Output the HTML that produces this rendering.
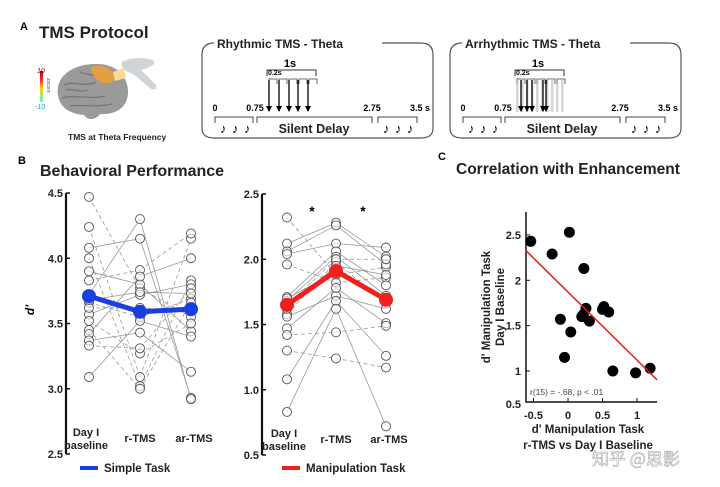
<!DOCTYPE html>
<html><head><meta charset="utf-8"><style>
body{margin:0;background:#fff;width:720px;height:487px;overflow:hidden}
svg{display:block;font-family:"Liberation Sans",Arial,sans-serif}
.b{font-weight:bold}
</style></head><body>
<svg id="fig" width="720" height="487" viewBox="0 0 720 487">
<defs>
<linearGradient id="cb" x1="0" y1="0" x2="0" y2="1"><stop offset="0" stop-color="#a00"/><stop offset="0.3" stop-color="#e33"/><stop offset="0.55" stop-color="#fc0"/><stop offset="0.8" stop-color="#9e6"/><stop offset="1" stop-color="#6ee"/></linearGradient>
<marker id="ar" markerWidth="6" markerHeight="6" refX="5" refY="3" orient="auto" markerUnits="userSpaceOnUse"><path d="M0,0 L6,3 L0,6 Z" fill="#000"/></marker>
</defs>
<g>
<text x="20" y="30" font-size="11" class="b">A</text>
<text x="39" y="38" font-size="17" class="b" fill="#222">TMS Protocol</text>
<g>
<path d="M58,95 C55,75 75,64 95,64 C115,63 128,75 128,92 C128,108 115,115 100,114 C96,120 88,121 84,115 C70,114 60,108 58,95 Z" fill="#9a9a9a"/>
<path d="M64,85 C75,80 85,88 96,82 M62,98 C75,94 90,100 105,96 M80,72 C88,76 100,74 110,80 M70,106 C82,104 95,108 112,104 M66,90 C74,88 80,93 88,90" stroke="#777" fill="none" stroke-width="1.3"/>
<path d="M91,67 C100,63 110,68 114,74 C117,81 112,84 104,83 C97,82 92,76 91,67 Z" fill="#f0a030" opacity="0.85"/>
<path d="M113,72 L124,68 L126,78 L115,81 Z" fill="#fbd89a"/>
<path d="M122,62 C130,57 148,57 154,61 C156,65 148,68 141,70 L156,85 C158,89 153,91 150,88 L133,74 C126,72 120,67 122,62 Z" fill="#cfd4d8"/>
<rect x="40" y="71" width="3" height="31" fill="url(#cb)"/>
<text x="37" y="73" font-size="7" fill="#a00" font-style="italic">10</text>
<text x="35" y="109" font-size="7" fill="#0aa" font-style="italic">-10</text>
<text x="47" y="78" font-size="5" fill="#555" transform="rotate(90 47 78)">zscore</text>
</g>
<text x="68" y="140" font-size="8.5" class="b" fill="#222">TMS at Theta Frequency</text>
<g id="rhythmic"></g>
<g id="arrhythmic"></g>
</g>
<text x="18" y="164" font-size="11" class="b">B</text>
<text x="40" y="176" font-size="16" class="b" fill="#222">Behavioral Performance</text>
<g id="simple"></g>
<g id="manip"></g>
<text x="438" y="160" font-size="11" class="b">C</text>
<text x="456" y="174" font-size="15.5" class="b" fill="#222">Correlation with Enhancement</text>
<g id="scatter"></g>
<text x="592" y="465" font-size="17" fill="#fff" stroke="#aaa" stroke-width="0.6" font-family="'Noto Sans CJK SC',sans-serif">知乎 @思影</text>
</svg>
<script>
const simpleCategories = ["Day I baseline", "r-TMS", "ar-TMS"];
const simpleBaseline = [4.47,4.24,4.08,4.00,3.90,3.83,3.72,3.66,3.57,3.52,3.45,3.42,3.37,3.33,3.09,3.62,3.68];
const simpleRTMS     = [3.77,3.09,4.15,3.02,3.80,3.91,4.30,3.55,3.72,3.27,3.00,3.86,3.43,3.31,3.52,3.62,3.74];
const simpleArTMS    = [3.55,4.15,2.93,3.83,3.44,4.19,2.92,3.69,3.80,3.50,3.66,4.00,3.13,3.77,3.40,3.60,3.73];
const simpleDashed   = [1,1,0,1,0,1,0,1,0,1,1,0,0,1,0,1,0];
const simpleMeans    = [3.71,3.59,3.61];
const simpleTicks    = [2.5,3.0,3.5,4.0,4.5];

const manipBaseline = [2.32,2.12,2.06,2.04,1.96,1.71,1.68,1.58,1.56,1.47,1.42,1.30,1.08,0.83,1.65,1.62,1.70];
const manipRTMS     = [1.88,2.28,2.26,2.12,1.82,2.06,2.02,1.98,1.72,1.78,1.44,1.24,1.68,1.62,2.00,1.95,1.90];
const manipArTMS    = [1.94,2.02,1.96,2.09,1.86,1.80,1.72,1.66,1.62,1.51,1.49,1.17,1.26,0.72,2.00,1.88,1.70];
const manipDashed   = [1,0,0,0,1,0,0,1,0,0,1,1,0,0,1,0,0];
const manipMeans    = [1.65,1.91,1.69];
const manipTicks    = [0.5,1.0,1.5,2.0,2.5];

const corrX = [-0.54,0.02,-0.23,0.23,0.26,0.20,0.31,0.52,0.50,0.59,-0.11,0.04,-0.05,0.65,0.98,1.19,0.22];
const corrY = [2.43,2.53,2.29,2.13,1.69,1.60,1.55,1.71,1.68,1.65,1.57,1.43,1.15,1.00,0.98,1.03,1.62];
const corrXTicks = [-0.5,0,0.5,1];
const corrYTicks = [1,1.5,2,2.5];
const fitIntercept = 1.87, fitSlope = -0.75;

const NS = "http://www.w3.org/2000/svg";
function mk(parent, tag, attrs, text){
  const e = document.createElementNS(NS, tag);
  for (const k in attrs) e.setAttribute(k, attrs[k]);
  if (text !== undefined) e.textContent = text;
  parent.appendChild(e);
  return e;
}

function protocol(g, ox, title, rhythmic){
  let t = mk(g,'path',{d:`M${ox+12},43 C${ox+4},43 ${ox},47 ${ox},55 L${ox},128 C${ox},135 ${ox+4},138 ${ox+12},138 L${ox+219},138 C${ox+227},138 ${ox+231},135 ${ox+231},128 L${ox+231},55 C${ox+231},47 ${ox+227},43 ${ox+219},43 L${ox+180},43`,fill:'none',stroke:'#555','stroke-width':1.2});
   
  t = mk(g,'text',{x:ox+15,y:48,'font-size':12,'font-weight':'bold',fill:'#222'},title);
   
  mk(g,'text',{x:ox+88,y:67,'font-size':11,'font-weight':'bold','text-anchor':'middle'},'1s');
  mk(g,'path',{d:`M${ox+65},76 L${ox+65},70 L${ox+114},70 L${ox+114},76`,fill:'none',stroke:'#333'});
  mk(g,'text',{x:ox+66,y:75,'font-size':7,'font-weight':'bold'},'0.2s');
  const ax = rhythmic ? [67,77,87,96,106] : [71,77,82,93,96];
  for (let i=0;i<5;i++){
    const bx = ox+67+i*10;
    mk(g,'path',{d:`M${bx},84 L${bx},79 L${bx+8},79 L${bx+8},84`,fill:'none',stroke:'#444','stroke-width':0.8});
  }
  if(!rhythmic){
    for(let i=0;i<10;i++) mk(g,'rect',{x:ox+66+i*5,y:80,width:2.5,height:32,fill:'#bbb',opacity:0.6});
  }
  ax.forEach(a=>{ mk(g,'line',{x1:ox+a,y1:80,x2:ox+a,y2:111,stroke:'#000','stroke-width':1.3,'marker-end':'url(#ar)'}); });
  [['0',13],['0.75',53],['2.75',170],['3.5 s',218]].forEach(([s,x])=>mk(g,'text',{x:ox+x,y:111,'font-size':9,'font-weight':'bold','text-anchor':'middle'},s));
  [[13,51],[55,170],[176,215]].forEach(([a,b])=>mk(g,'path',{d:`M${ox+a},123 L${ox+a},117 L${ox+b},117 L${ox+b},123`,fill:'none',stroke:'#444'}));
  [18,30,42,181,193,205].forEach(x=>mk(g,'text',{x:ox+x,y:133,'font-size':13},'♪'));
  mk(g,'text',{x:ox+112,y:133,'font-size':12.5,'font-weight':'bold','text-anchor':'middle',fill:'#222'},'Silent Delay');
}
protocol(document.getElementById('rhythmic'),202,'Rhythmic TMS - Theta',true);
protocol(document.getElementById('arrhythmic'),450,'Arrhythmic TMS - Theta',false);

function paired(g, cfg){
  const {axX, yTop, yBot, vmin, vmax, cols, b, r, a, dashed, means, ticks, color, legend, legX, stars} = cfg;
  const y = v => yBot - (v - vmin)/(vmax - vmin)*(yBot - yTop);
  let e = mk(g,'line',{x1:axX,y1:yTop,x2:axX,y2:yBot,stroke:'#111','stroke-width':2.2});
   
  ticks.forEach(tv=>{
    mk(g,'line',{x1:axX,y1:y(tv),x2:axX+4,y2:y(tv),stroke:'#111','stroke-width':1.5});
    e = mk(g,'text',{x:axX-3,y:y(tv)+4,'font-size':11,'font-weight':'bold','text-anchor':'end',fill:'#222'},tv.toFixed(1));
     
  });
  for (let i=0;i<b.length;i++){
    const da = dashed[i] ? '4,3' : null;
    const p1 = {x1:cols[0],y1:y(b[i]),x2:cols[1],y2:y(r[i]),stroke:'#999','stroke-width':0.8};
    const p2 = {x1:cols[1],y1:y(r[i]),x2:cols[2],y2:y(a[i]),stroke:'#999','stroke-width':0.8};
    if(da){p1['stroke-dasharray']=da;p2['stroke-dasharray']=da;}
    e = mk(g,'line',p1);  
    e = mk(g,'line',p2);  
  }
  [b,r,a].forEach((arr,ci)=>arr.forEach(v=>{
    e = mk(g,'circle',{cx:cols[ci],cy:y(v),r:4.5,fill:'#fff','fill-opacity':0.6,stroke:'#555','stroke-width':0.9});
     
  }));
  e = mk(g,'polyline',{points:means.map((m,i)=>cols[i]+','+y(m)).join(' '),fill:'none',stroke:color,'stroke-width':5});
   
  means.forEach((m,i)=>{
    e = mk(g,'circle',{cx:cols[i],cy:y(m),r:7,fill:color});
     
  });
  mk(g,'text',{x:cols[0]-3,y:yBot-18,'font-size':11,'font-weight':'bold','text-anchor':'middle',fill:'#222'},'Day I');
  mk(g,'text',{x:cols[0]-3,y:yBot-5,'font-size':11,'font-weight':'bold','text-anchor':'middle',fill:'#222'},'baseline');
  mk(g,'text',{x:cols[1],y:yBot-12,'font-size':11,'font-weight':'bold','text-anchor':'middle',fill:'#222'},'r-TMS');
  mk(g,'text',{x:cols[2]+3,y:yBot-12,'font-size':11,'font-weight':'bold','text-anchor':'middle',fill:'#222'},'ar-TMS');
  e = mk(g,'line',{x1:legX,y1:468,x2:legX+18,y2:468,stroke:color,'stroke-width':4});
   
  e = mk(g,'text',{x:legX+24,y:472,'font-size':11.5,'font-weight':'bold',fill:'#222'},legend);
   
  (stars||[]).forEach(sx=>mk(g,'text',{x:sx,y:216,'font-size':14,'font-weight':'bold','text-anchor':'middle'},'*'));
}
paired(document.getElementById('simple'),{axX:66,yTop:193,yBot:454,vmin:2.5,vmax:4.5,cols:[89,140,191],b:simpleBaseline,r:simpleRTMS,a:simpleArTMS,dashed:simpleDashed,means:simpleMeans,ticks:simpleTicks,color:'#1a3fe0',legend:'Simple Task',legX:80});
paired(document.getElementById('manip'),{axX:262,yTop:194,yBot:455,vmin:0.5,vmax:2.5,cols:[287,336,386],b:manipBaseline,r:manipRTMS,a:manipArTMS,dashed:manipDashed,means:manipMeans,ticks:manipTicks,color:'#f0201c',legend:'Manipulation Task',legX:282,stars:[312,363]});
const yl = mk(document.getElementById('simple'),'text',{x:34,y:310,'font-size':12,'font-weight':'bold','font-style':'italic','text-anchor':'middle',transform:'rotate(-90 34 310)'},"d'");
 

(function(){
  const g = document.getElementById('scatter');
  const x = v => 568 + v*69;
  const y = v => 371 - (v-1)*90.7;
  let e = mk(g,'path',{d:'M526,212 L526,402 L657,402',fill:'none',stroke:'#111','stroke-width':1.5});
   
  corrYTicks.forEach(t=>{
    mk(g,'line',{x1:526,y1:y(t),x2:530,y2:y(t),stroke:'#111'});
    e = mk(g,'text',{x:521,y:y(t)+4,'font-size':11,'font-weight':'bold','text-anchor':'end',fill:'#222'},String(t));
     
  });
  mk(g,'text',{x:521,y:408,'font-size':11,'font-weight':'bold','text-anchor':'end',fill:'#222'},'0.5');
  corrXTicks.forEach(t=>{
    mk(g,'line',{x1:x(t),y1:402,x2:x(t),y2:398,stroke:'#111'});
    e = mk(g,'text',{x:x(t),y:419,'font-size':11,'font-weight':'bold','text-anchor':'middle',fill:'#222'},String(t));
     
  });
  for(let i=0;i<corrX.length;i++){
    e = mk(g,'circle',{cx:x(corrX[i]),cy:y(corrY[i]),r:5.5,fill:'#000'});
     
  }
  const x0=-0.61, x1=1.29;
  e = mk(g,'line',{x1:x(x0),y1:y(fitIntercept+fitSlope*x0),x2:x(x1),y2:y(fitIntercept+fitSlope*x1),stroke:'#d8201c','stroke-width':1.5});
   
  e = mk(g,'text',{x:530,y:395,'font-size':8.5,fill:'#444'},'r(15) = -.68, p < .01');
   
  e = mk(g,'text',{x:490,y:307,'font-size':11.5,'font-weight':'bold','text-anchor':'middle',fill:'#222',transform:'rotate(-90 490 307)'},"d' Manipulation Task");
   
  e = mk(g,'text',{x:504,y:307,'font-size':11.5,'font-weight':'bold','text-anchor':'middle',fill:'#222',transform:'rotate(-90 504 307)'},"Day I Baseline");
   
  e = mk(g,'text',{x:588,y:433,'font-size':11.5,'font-weight':'bold','text-anchor':'middle',fill:'#222'},"d' Manipulation Task");
   
  e = mk(g,'text',{x:588,y:449,'font-size':11.5,'font-weight':'bold','text-anchor':'middle',fill:'#222'},"r-TMS vs Day I Baseline");
   
})();
</script>
</body></html>
